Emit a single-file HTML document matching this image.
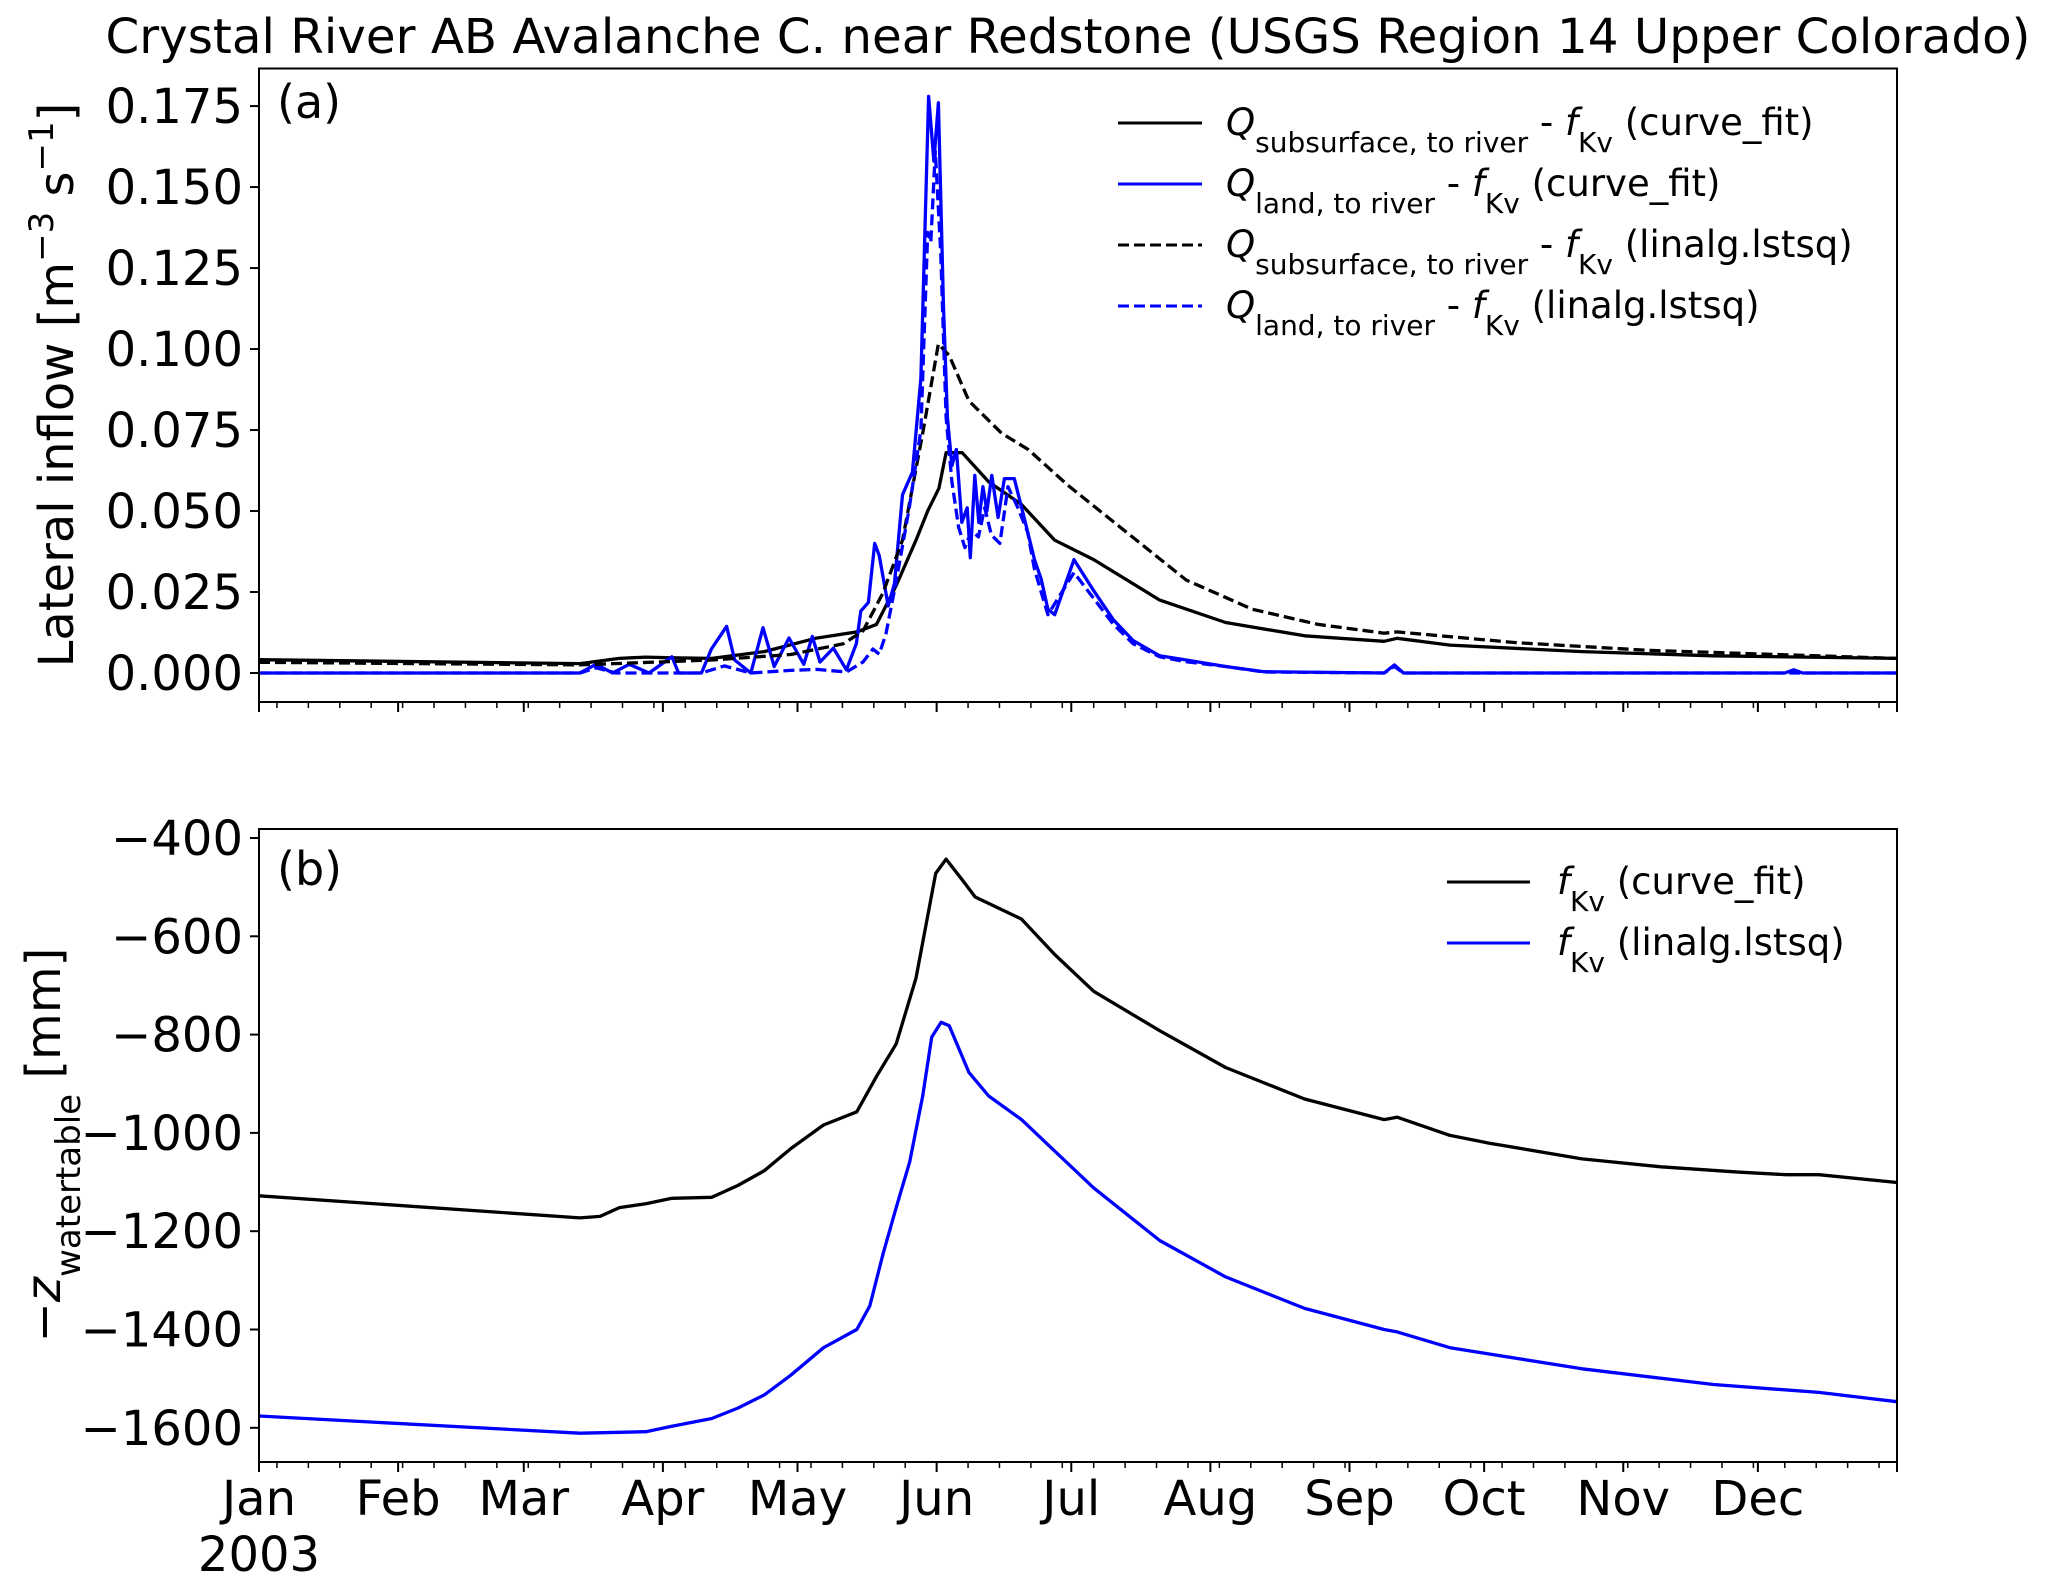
<!DOCTYPE html>
<html><head><meta charset="utf-8"><style>
html,body{margin:0;padding:0;background:#fff}
svg{display:block}
text{font-family:"DejaVu Sans","Liberation Sans",sans-serif;fill:#000}
</style></head><body>
<svg id="chart" width="2067" height="1590" viewBox="0 0 2067 1590" xmlns="http://www.w3.org/2000/svg">
<text x="1068" y="53" font-size="48" text-anchor="middle" textLength="1925" lengthAdjust="spacingAndGlyphs">Crystal River AB Avalanche C. near Redstone (USGS Region 14 Upper Colorado)</text>
<g id="pa"></g>
<g id="pb"></g>
<text x="277" y="118" font-size="46">(a)</text>
<text x="277" y="885" font-size="46">(b)</text>
<text transform="translate(73,385) rotate(-90)" font-size="48" text-anchor="middle">Lateral inflow [m<tspan baseline-shift="super" font-size="34">−3</tspan> s<tspan baseline-shift="super" font-size="34">−1</tspan>]</text>
<text transform="translate(60,1145) rotate(-90)" font-size="48" text-anchor="middle">−<tspan font-style="italic">z</tspan><tspan baseline-shift="sub" font-size="34">watertable</tspan> [mm]</text>
<g font-size="37">
  <line x1="1118" y1="123" x2="1202" y2="123" stroke="#000" stroke-width="3"/>
  <text x="1226" y="135"><tspan font-style="italic">Q</tspan><tspan baseline-shift="sub" font-size="28">subsurface, to river</tspan> - <tspan font-style="italic">f</tspan><tspan baseline-shift="sub" font-size="28">Kv</tspan> (curve_fit)</text>
  <line x1="1118" y1="184" x2="1202" y2="184" stroke="#0000ff" stroke-width="3"/>
  <text x="1226" y="196"><tspan font-style="italic">Q</tspan><tspan baseline-shift="sub" font-size="28">land, to river</tspan> - <tspan font-style="italic">f</tspan><tspan baseline-shift="sub" font-size="28">Kv</tspan> (curve_fit)</text>
  <line x1="1118" y1="245" x2="1202" y2="245" stroke="#000" stroke-width="3" stroke-dasharray="11,5"/>
  <text x="1226" y="257"><tspan font-style="italic">Q</tspan><tspan baseline-shift="sub" font-size="28">subsurface, to river</tspan> - <tspan font-style="italic">f</tspan><tspan baseline-shift="sub" font-size="28">Kv</tspan> (linalg.lstsq)</text>
  <line x1="1118" y1="306" x2="1202" y2="306" stroke="#0000ff" stroke-width="3" stroke-dasharray="11,5"/>
  <text x="1226" y="318"><tspan font-style="italic">Q</tspan><tspan baseline-shift="sub" font-size="28">land, to river</tspan> - <tspan font-style="italic">f</tspan><tspan baseline-shift="sub" font-size="28">Kv</tspan> (linalg.lstsq)</text>
</g>
<g font-size="37">
  <line x1="1447" y1="882" x2="1530" y2="882" stroke="#000" stroke-width="3"/>
  <text x="1557" y="894"><tspan font-style="italic">f</tspan><tspan baseline-shift="sub" font-size="28">Kv</tspan> (curve_fit)</text>
  <line x1="1447" y1="943" x2="1530" y2="943" stroke="#0000ff" stroke-width="3"/>
  <text x="1557" y="955"><tspan font-style="italic">f</tspan><tspan baseline-shift="sub" font-size="28">Kv</tspan> (linalg.lstsq)</text>
</g>
</svg>
<script>
const monthLabels=["Jan","Feb","Mar","Apr","May","Jun","Jul","Aug","Sep","Oct","Nov","Dec"];
const monthStartDays=[0,31,59,90,120,151,181,212,243,273,304,334];
const yTicksA=[0,0.025,0.05,0.075,0.1,0.125,0.15,0.175];
const yTickLabelsA=["0.000","0.025","0.050","0.075","0.100","0.125","0.150","0.175"];
const yTicksB=[-1600,-1400,-1200,-1000,-800,-600,-400];
const yTickLabelsB=["−1600","−1400","−1200","−1000","−800","−600","−400"];

const subFitDays=[0,71.5,80.3,86.2,92,100.9,112.6,124,133.2,137.6,142,146.4,149,151.5,153.1,156.7,162.6,169.9,177.3,186,200.7,215.4,233,250.7,253.6,265.4,294.8,324,365];
const subFitVals=[0.0041,0.0029,0.0045,0.0049,0.0047,0.0045,0.0066,0.0107,0.0127,0.015,0.027,0.041,0.05,0.057,0.068,0.068,0.059,0.052,0.041,0.035,0.0225,0.0156,0.0115,0.0098,0.0107,0.0086,0.0066,0.0053,0.0045];
const subLsqDays=[0,71.5,100.9,118.5,130.2,134.6,139,143.4,147.9,151.4,153.8,158.2,165.5,171.4,180.2,191.9,206.6,221.3,236,250.7,253.6,280,309.4,365];
const subLsqVals=[0.0033,0.0025,0.004,0.0057,0.009,0.013,0.0246,0.041,0.074,0.1016,0.098,0.084,0.074,0.069,0.058,0.045,0.0287,0.0197,0.015,0.0123,0.0127,0.0094,0.007,0.0045];
const landFitDays=[0,71.5,75.1,78.8,82.5,86.9,92,93.5,98.6,100.8,104.2,106,109.6,112.3,114.8,118.1,121.4,123.3,125,128,130.9,133.1,134.1,135.8,137.2,138.2,140.2,141.6,143.4,145.6,147.5,149.2,150.4,151.4,152.5,153.4,154.4,155.4,156.6,157.8,158.5,159.5,160.4,161.3,162.2,163.3,164.7,166.1,168.3,170.5,172.8,174.3,175.8,177.3,181.6,186,190.4,194.8,200.7,206.6,215.4,224,250.7,253,255,340,342,344,365];
const landFitVals=[0,0,0.0027,0,0.0027,0,0.005,0,0,0.0074,0.0144,0.004,0,0.014,0.002,0.0108,0.0027,0.0113,0.0034,0.0077,0.001,0.009,0.0191,0.0218,0.04,0.0363,0.0207,0.0277,0.055,0.062,0.091,0.178,0.158,0.176,0.114,0.079,0.064,0.069,0.0465,0.051,0.0356,0.061,0.0465,0.0575,0.05,0.061,0.048,0.06,0.06,0.048,0.035,0.029,0.0197,0.018,0.035,0.0254,0.0164,0.01,0.0053,0.004,0.002,0.0004,0,0.0025,0,0,0.001,0,0];
const landLsqDays=[0,71.5,75.1,79.5,98.6,103.7,109.6,118.4,124.3,130.9,134.6,136.8,138.2,139.7,141.9,144.9,147.5,149,149.7,150.7,151.9,153.1,154.4,155.9,157.3,158.8,160.3,161.7,163.2,165.1,166.9,169.1,171.3,172.8,175.8,181.6,186,190.4,194.8,200.7,206.6,215.4,224,250.7,253,255,365];
const landLsqVals=[0,0,0.0016,0,0,0.0022,0,0.0008,0.0011,0.0003,0.0034,0.0074,0.0058,0.012,0.0277,0.051,0.075,0.136,0.133,0.161,0.13,0.079,0.059,0.045,0.0387,0.044,0.042,0.051,0.0426,0.04,0.0575,0.051,0.0434,0.032,0.018,0.031,0.023,0.015,0.009,0.005,0.0035,0.002,0.0003,0,0.002,0,0];

const wtFitDays=[0,71.5,76,80.3,86.2,92,100.9,106.7,112.6,118.5,125.8,133.2,137.6,142,146.4,150.8,153.1,156.7,159.6,169.9,177.3,186,200.7,215.4,233,250.7,253.6,265.4,274.2,294.8,312.4,330,340.3,347.6,365];
const wtFitVals=[-1128,-1173,-1170,-1152,-1144,-1133,-1131,-1107,-1077,-1032,-984,-957,-885,-819,-685,-472,-443,-485,-520,-565,-637,-712,-792,-867,-931,-973,-968,-1005,-1021,-1053,-1069,-1080,-1085,-1085,-1101];
const wtLsqDays=[0,71.5,86.2,92,100.9,106.7,112.6,118.5,125.8,133.2,136.1,139.1,142,145,147.9,149.9,152,153.8,158.2,162.6,169.9,177.3,186,200.7,215.4,233,250.7,253.6,265.4,294.8,324.1,347.6,365];
const wtLsqVals=[-1576,-1611,-1608,-1597,-1581,-1560,-1533,-1493,-1437,-1400,-1352,-1245,-1152,-1059,-925,-805,-775,-782,-877,-925,-973,-1037,-1112,-1219,-1293,-1357,-1400,-1405,-1437,-1480,-1512,-1528,-1547];

const NS="http://www.w3.org/2000/svg";
const X0=259,X1=1897;
function xScale(d){return X0+(X1-X0)*d/365;}
function mk(tag,attrs,parent){const e=document.createElementNS(NS,tag);for(const k in attrs)e.setAttribute(k,attrs[k]);parent.appendChild(e);return e;}

function panel(g,top,bottom,ymin,ymax,ticks,labels,showX,series,nm){
  const ys=v=>bottom-(v-ymin)/(ymax-ymin)*(bottom-top);
  series.forEach(s=>{
    let d="";s.days.forEach((dd,i)=>{d+=(i?"L":"M")+xScale(dd).toFixed(1)+","+ys(s.vals[i]).toFixed(1);});
    const p=mk("path",{d:d,fill:"none",stroke:s.color,"stroke-width":3.3,"stroke-linejoin":"round"},g);
    if(s.dash)p.setAttribute("stroke-dasharray","11,5");
    
    
  });
  const fr=mk("rect",{x:X0,y:top,width:X1-X0,height:bottom-top,fill:"none",stroke:"#000","stroke-width":2},g);
  
  
  ticks.forEach((t,i)=>{
    const y=ys(t);
    mk("line",{x1:X0-9,x2:X0,y1:y,y2:y,stroke:"#000","stroke-width":2},g);
    const tx=mk("text",{x:X0-16,y:y+17,"font-size":48,"text-anchor":"end"},g);
    tx.textContent=labels[i];
    
    
  });
  for(let d=4;d<365;d+=7){mk("line",{x1:xScale(d),x2:xScale(d),y1:bottom,y2:bottom+6,stroke:"#000","stroke-width":1.5},g);}
  const md=monthStartDays.concat([365]);
  md.forEach((d,i)=>{
    mk("line",{x1:xScale(d),x2:xScale(d),y1:bottom,y2:bottom+10,stroke:"#000","stroke-width":2},g);
    if(showX&&i<12){
      const tx=mk("text",{x:xScale(d),y:bottom+53,"font-size":48,"text-anchor":"middle"},g);
      tx.textContent=monthLabels[i];
      
      
    }
  });
  if(showX){
    const yr=mk("text",{x:xScale(0),y:bottom+109,"font-size":48,"text-anchor":"middle"},g);
    yr.textContent="2003";
    
    
  }
}
panel(document.getElementById("pa"),68.5,702,-0.00895,0.1866,yTicksA,yTickLabelsA,false,[
  {days:subFitDays,vals:subFitVals,color:"#000",dash:false,name:"q-subsurface-curve-fit-line"},
  {days:landFitDays,vals:landFitVals,color:"#0000ff",dash:false,name:"q-land-curve-fit-line"},
  {days:subLsqDays,vals:subLsqVals,color:"#000",dash:true,name:"q-subsurface-lstsq-line"},
  {days:landLsqDays,vals:landLsqVals,color:"#0000ff",dash:true,name:"q-land-lstsq-line"}],"panel-a");
panel(document.getElementById("pb"),829,1462,-1669.6,-381.7,yTicksB,yTickLabelsB,true,[
  {days:wtFitDays,vals:wtFitVals,color:"#000",dash:false,name:"watertable-curve-fit-line"},
  {days:wtLsqDays,vals:wtLsqVals,color:"#0000ff",dash:false,name:"watertable-lstsq-line"}],"panel-b");
</script>
</body></html>
